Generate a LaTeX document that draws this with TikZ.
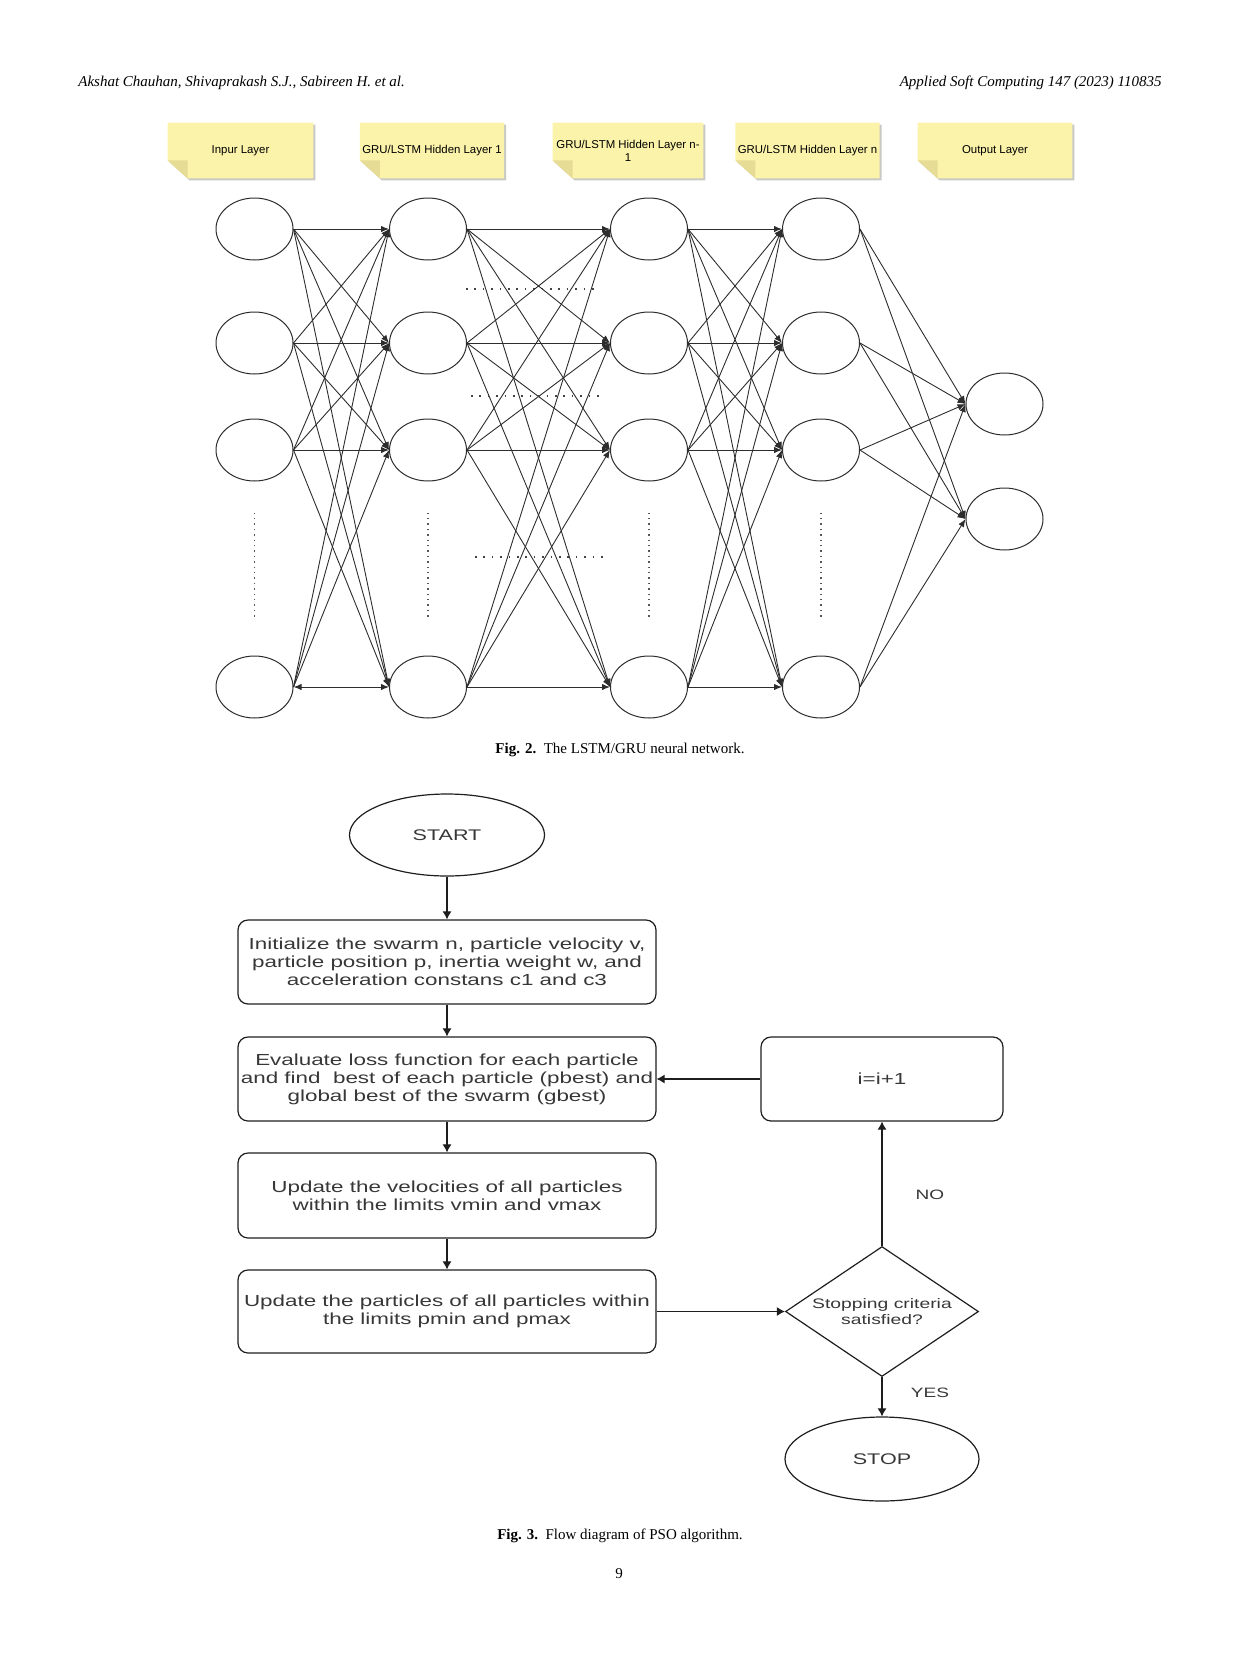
\documentclass[tikz,border=0pt]{standalone}
\usepackage{fontspec}
\setmainfont{Liberation Serif}
\newfontfamily\notefont{Liberation Sans}
\newfontfamily\flowfont[FakeStretch=1.4]{Liberation Sans}
\usetikzlibrary{arrows.meta,positioning,calc,shapes.geometric,backgrounds}
\definecolor{noteYellow}{RGB}{252,243,170}
\definecolor{noteFold}{RGB}{230,220,150}
\definecolor{noteShade}{RGB}{200,200,196}
\definecolor{netGray}{RGB}{45,45,45}
\definecolor{flowLine}{RGB}{30,30,30}
\definecolor{flowText}{RGB}{55,55,55}
\tikzset{
  sticky/.style={minimum height=27.5pt, inner sep=1pt, align=center, font=\notefont\fontsize{5.7}{6.4}\selectfont},
  neuron/.style={draw=netGray, ellipse, line width=0.5pt, minimum width=38.5pt, minimum height=31pt, inner sep=0pt},
  link/.style={draw=netGray, line width=0.45pt, ->},
  vdots/.style={draw=netGray!80, line width=0.9pt, dash pattern=on 0.7pt off 2pt},
  hdots/.style={draw=netGray!90, line width=0.9pt, dash pattern=on 0.8pt off 3.4pt},
  flowbox/.style={draw=flowLine, rounded corners=5pt, line width=0.6pt, minimum width=209pt, inner sep=0pt, align=center, text=flowText, font=\flowfont\fontsize{8}{9}\selectfont},
  term/.style={draw=flowLine, ellipse, line width=0.6pt, inner sep=0pt, text=flowText, font=\flowfont\fontsize{7.7}{9}\selectfont},
  decide/.style={draw=flowLine, diamond, aspect=1.485, line width=0.6pt, inner sep=0pt, minimum width=96.5pt, minimum height=65pt, align=center, text=flowText, font=\flowfont\fontsize{6.9}{8}\selectfont},
  flow/.style={draw=flowLine, line width=0.55pt, -{Latex[length=4pt,width=4.5pt]}},
  lbl/.style={text=flowText, font=\flowfont\fontsize{6.8}{8}\selectfont},
  head/.style={font=\itshape\fontsize{7.5}{9}\selectfont, inner sep=0pt},
  caption/.style={font=\fontsize{7.5}{9}\selectfont, inner sep=0pt}
}

\begin{document}
\begin{tikzpicture}[x=0.5pt,y=-0.5pt,>={Latex[length=4pt,width=3.2pt]}]
  \useasboundingbox (0,0) rectangle (1241,1654);

  % Running head
  \node[head, anchor=west] (hleft) at (78,83) {Akshat Chauhan, Shivaprakash S.J., Sabireen H. et al.};
  \node[head, anchor=east] (hright) at (1162,83) {Applied Soft Computing 147 (2023) 110835};

  % Layer notes
  \node[sticky, minimum width=72.5pt] (nin) at (240.5,150.5) {Inpur Layer};
  \node[sticky, minimum width=71pt] (nh1) at (432,150.5) {GRU/LSTM Hidden Layer 1};
  \node[sticky, minimum width=75pt] (nhm) at (628,150.5) {GRU/LSTM Hidden Layer n-\\1};
  \node[sticky, minimum width=71.5pt] (nhn) at (807.5,150.5) {GRU/LSTM Hidden Layer n};
  \node[sticky, minimum width=77pt] (nout) at (995,150.5) {Output Layer};
  \begin{scope}[on background layer]
    \foreach \n in {nin,nh1,nhm,nhn,nout} {
      \fill[noteShade] ($(\n.north west)+(2,2)$) -- ($(\n.north east)+(2,2)$) -- ($(\n.south east)+(2,2)$) -- ($(\n.south west)+(22,2)$) -- ($(\n.south west)+(2,-16)$) -- cycle;
      \fill[noteYellow] (\n.north west) -- (\n.north east) -- (\n.south east) -- ($(\n.south west)+(20,0)$) -- ($(\n.south west)+(0,-18)$) -- cycle;
      \fill[noteFold] ($(\n.south west)+(0,-18)$) -- ($(\n.south west)+(20,-18)$) -- ($(\n.south west)+(20,0)$) -- cycle;
    }
  \end{scope}

  % Network layers
  \foreach \layer/\x in {i/254.5, a/428, b/649, c/821}
    \foreach \row/\y in {1/229, 2/343, 3/450, 4/687}
      \node[neuron] (\layer\row) at (\x,\y) {};
  \node[neuron] (o1) at (1004.5,404) {};
  \node[neuron] (o2) at (1004.5,519) {};

  % Dense connections
  \foreach \s/\t [count=\k] in {i/a, a/b, b/c}
    \foreach \p in {1,...,4}
      \foreach \q in {1,...,4} {
        \ifnum\k\p\q=144 \draw[link,<->] (\s\p.east) -- (\t\q.west);
        \else \draw[link] (\s\p.east) -- (\t\q.west); \fi
      }
  \foreach \p in {1,...,4}
    \foreach \q in {1,2}
      \draw[link] (c\p.east) -- (o\q.west);

  % Ellipsis dots
  \foreach \layer in {i,a,b,c}
    \draw[vdots] ($(\layer3.south)+(0,31)$) -- ($(\layer4.north)+(0,-38)$);
  \draw[hdots] (466,289) -- (600,289);
  \draw[hdots] (471,396) -- (604,396);
  \draw[hdots] (475,557) -- (609,557);

  \node[caption] (cap2) at (620,750) {\textbf{Fig. 2.}\ \ The LSTM/GRU neural network.};

  % PSO flow
  \node[term, minimum width=97.5pt, minimum height=41pt] (start) at (447,835) {START};
  \node[flowbox, minimum height=42pt] (init) at (447,962) {Initialize the swarm n, particle velocity v,\\particle position p, inertia weight w, and\\acceleration constans c1 and c3};
  \node[flowbox, minimum height=42pt] (eval) at (447,1079) {Evaluate loss function for each particle\\and find\ \ best of each particle (pbest) and\\global best of the swarm (gbest)};
  \node[flowbox, minimum height=42.5pt] (vel) at (447,1195.5) {Update the velocities of all particles\\within the limits vmin and vmax};
  \node[flowbox, minimum height=41.5pt] (pos) at (447,1311.5) {Update the particles of all particles within\\the limits pmin and pmax};
  \node[flowbox, minimum width=121pt, minimum height=42pt] (inc) at (882,1079) {i=i+1};
  \node[decide] (check) at (882,1311.5) {Stopping criteria\\satisfied?};
  \node[term, minimum width=97pt, minimum height=42pt] (stop) at (882,1459) {STOP};
  \node[lbl] (no) at (930,1195) {NO};
  \node[lbl] (yes) at (930,1393) {YES};

  \draw[flow] (start) -- (init);
  \draw[flow] (init) -- (eval);
  \draw[flow] (eval) -- (vel);
  \draw[flow] (vel) -- (pos);
  \draw[flow] (pos) -- (check);
  \draw[flow] (check) -- (inc);
  \draw[flow] (inc) -- (eval);
  \draw[flow] (check) -- (stop);

  \node[caption] (cap3) at (620,1536) {\textbf{Fig. 3.}\ \ Flow diagram of PSO algorithm.};
  \node[caption] (pageno) at (619,1574) {9};
\end{tikzpicture}
\end{document}
